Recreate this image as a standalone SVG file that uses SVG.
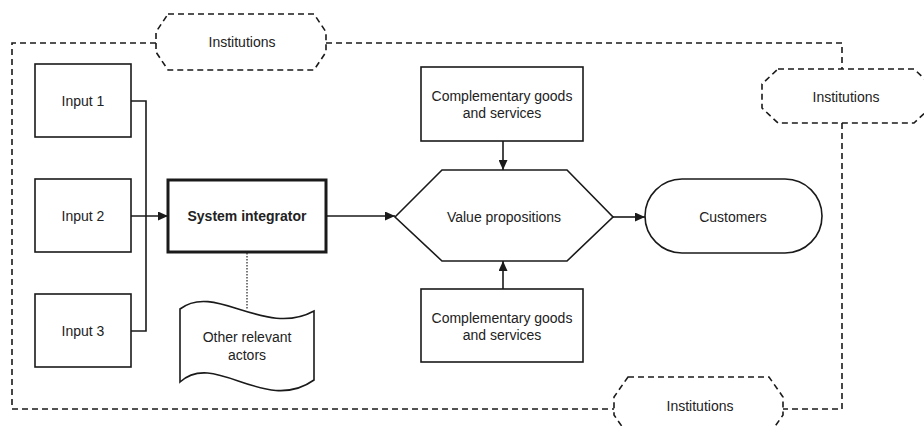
<svg xmlns="http://www.w3.org/2000/svg" width="924" height="426" viewBox="0 0 924 426">
<defs>
<style>
.bg{fill:#ffffff}
.box{fill:#ffffff;stroke:#1a1a1a;stroke-width:1.6}
.thick{fill:#ffffff;stroke:#1a1a1a;stroke-width:3}
.dash{fill:none;stroke:#1a1a1a;stroke-width:1.6;stroke-dasharray:6 4}
.dashshape{fill:#ffffff;stroke:#1a1a1a;stroke-width:1.6;stroke-dasharray:6 4}
.line{fill:none;stroke:#1a1a1a;stroke-width:1.6}
.dot{fill:none;stroke:#333333;stroke-width:1.3;stroke-dasharray:1.5 1.5}
text{font-family:"Liberation Sans",Arial,sans-serif;font-size:14px;fill:#222222;text-anchor:middle;dominant-baseline:central}
.bold{font-weight:bold}
</style>
<marker id="arr" markerUnits="userSpaceOnUse" markerWidth="10" markerHeight="9" refX="10" refY="4.5" orient="auto">
<path d="M0,0 L10,4.5 L0,9 Z" fill="#1a1a1a"/>
</marker>
</defs>
<rect class="bg" x="0" y="0" width="924" height="426"/>

<g id="boundary">
<path class="dash" d="M156,43 L12,43 L12,409 L614,409"/>
<path class="dash" d="M326,43 L842,43 L842,69"/>
<path class="dash" d="M842,123 L842,409 L783,409"/>
</g>

<g id="connectors">
<path class="line" d="M131,101 L146,101 L146,331 L131,331"/>
<path class="line" d="M131,216 L168,216" marker-end="url(#arr)"/>
<path class="line" d="M326,216 L395,216" marker-end="url(#arr)"/>
<path class="line" d="M503,141 L503,170" marker-end="url(#arr)"/>
<path class="line" d="M503,289 L503,261" marker-end="url(#arr)"/>
<path class="line" d="M613,217 L645,217" marker-end="url(#arr)"/>
<path class="dot" d="M247,253 L247,309"/>
</g>

<g id="institutions-top">
<path class="dashshape" d="M168,14 L314,14 L326,32 L326,52 L314,70 L168,70 L156,52 L156,32 Z"/>
<text x="242" y="42">Institutions</text>
</g>
<g id="institutions-right">
<path class="dashshape" d="M778,69 L914,69 L930,84 L930,108 L914,123 L778,123 L762,108 L762,84 Z"/>
<text x="846" y="97">Institutions</text>
</g>
<g id="institutions-bottom">
<path class="dashshape" d="M628,377 L769,377 L783,397 L783,415 L769,435 L628,435 L614,415 L614,397 Z"/>
<text x="700" y="406">Institutions</text>
</g>

<g id="input1">
<rect class="box" x="35" y="64" width="96" height="73"/>
<text x="83" y="101">Input 1</text>
</g>
<g id="input2">
<rect class="box" x="35" y="179" width="96" height="73"/>
<text x="83" y="216">Input 2</text>
</g>
<g id="input3">
<rect class="box" x="35" y="294" width="96" height="73"/>
<text x="83" y="331">Input 3</text>
</g>

<g id="system-integrator">
<rect class="thick" x="168" y="180" width="158" height="72"/>
<text class="bold" x="247" y="216">System integrator</text>
</g>

<g id="other-actors">
<path class="box" d="M180,309 C215,282 265,338 314,311 L314,380 C265,415 215,350 180,382 Z"/>
<text x="247" y="337">Other relevant</text>
<text x="247" y="355">actors</text>
</g>

<g id="complementary-top">
<rect class="box" x="421" y="67" width="162" height="74"/>
<text x="502" y="96">Complementary goods</text>
<text x="502" y="113">and services</text>
</g>

<g id="value-propositions">
<path class="box" d="M395,217 L442,170 L567,170 L613,217 L567,261 L442,261 Z"/>
<text x="504" y="217">Value propositions</text>
</g>

<g id="complementary-bottom">
<rect class="box" x="421" y="289" width="162" height="73"/>
<text x="502" y="318">Complementary goods</text>
<text x="502" y="335">and services</text>
</g>

<g id="customers">
<rect class="box" x="645" y="179" width="177" height="74" rx="37" ry="37"/>
<text x="733" y="217">Customers</text>
</g>
</svg>
